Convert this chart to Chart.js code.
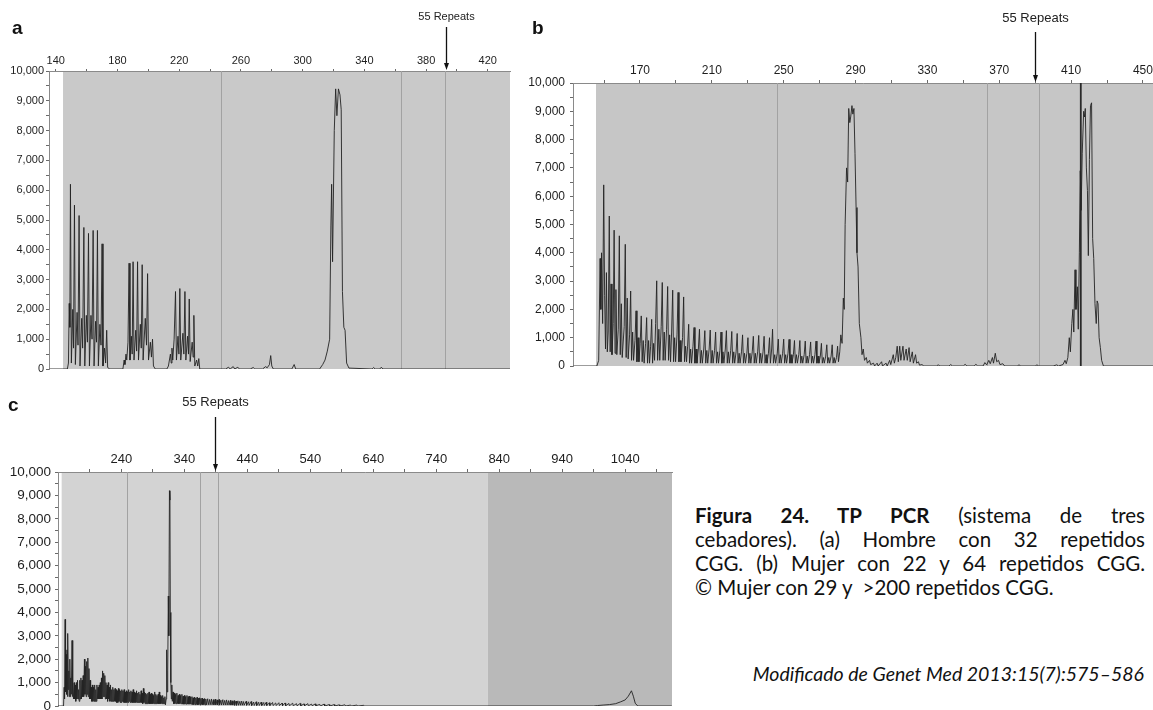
<!DOCTYPE html>
<html><head><meta charset="utf-8">
<script src="https://cdn.jsdelivr.net/npm/chart.js@4"></script>
<style>
html,body{margin:0;padding:0;background:#fff;width:1153px;height:710px;overflow:hidden;position:relative}
canvas{position:absolute;display:block}
#cap{position:absolute;left:695px;top:503px;width:450px;font-family:Lato,"Open Sans",sans-serif;font-size:20.5px;line-height:24px;color:#111}
#cap div{text-align:justify;text-align-last:justify;white-space:nowrap}
#cap div.last{text-align:left;text-align-last:left}
#src{position:absolute;right:9px;top:662px;font-family:Lato,"Open Sans",sans-serif;font-style:italic;font-size:19.5px;color:#111}
</style></head><body>
<canvas id="ca" width="520" height="380" style="left:0;top:0"></canvas>
<canvas id="cb" width="643" height="375" style="left:510px;top:0"></canvas>
<canvas id="cc" width="680" height="325" style="left:0;top:385px"></canvas>
<div id="cap">
<div><b>Figura 24. TP PCR</b> (sistema de tres</div>
<div>cebadores). (a) Hombre con 32 repetidos</div>
<div>CGG. (b) Mujer con 22 y 64 repetidos CGG.</div>
<div class="last">© Mujer con 29 y &nbsp;&gt;200 repetidos CGG.</div>
</div>
<div id="src">Modificado de Genet Med 2013:15(7):575–586</div>
<script>
// ---------- data (size in bp, signal in RFU) ----------
const yTickValues = [0,500,1000,1500,2000,2500,3000,3500,4000,4500,5000,5500,6000,6500,7000,7500,8000,8500,9000,9500,10000];
const yTickLabels = [0,1000,2000,3000,4000,5000,6000,7000,8000,9000,10000];

const xTicksA  = [140,160,180,200,220,240,260,280,300,320,340,360,380,400,420];
const xLabelsA = [140,180,220,260,300,340,380,420];
const xTicksB  = [150,170,190,210,230,250,270,290,310,330,350,370,390,410,430,450];
const xLabelsB = [170,210,250,290,330,370,410,450];
const xTicksC  = [190,240,290,340,390,440,490,540,590,640,690,740,790,840,890,940,990,1040,1090];
const xLabelsC = [240,340,440,540,640,740,840,940,1040];

const markersA = [246.8,363.7,392.4];
const markersB = [246,363,392.3];
const markerBoldB = [415.4];
const markersC = [248,364.5,393.6];
const repeats55 = ["55 Repeats"];

const traceA = [[136,0],[147.5,0],[148.2,200],[148.7,2200],[149.1,1400],[149.5,6200],[150.1,200],
[151,2000],[151.5,700],[152.1,5500],[152.7,150],[153.8,1900],[154.4,800],[155.1,5150],[155.7,100],
[156.8,1700],[157.4,700],[158.2,4750],[158.8,100],[159.8,1800],[160.5,900],[161.2,4550],[161.8,100],
[162.8,1800],[163.5,1000],[164.2,4650],[164.8,100],[165.8,1600],[166.4,900],[167,4650],[167.6,100],
[168.6,1500],[169.3,800],[170,4200],[170.6,100],[171.6,700],[172.3,200],[173,1300],[173.6,50],[175,0],
[183.5,0],[184.3,300],[184.8,150],[185.5,500],[186,300],
[186.8,900],[187.5,3550],[188.1,300],[189,1100],[189.5,500],[190.1,3600],[190.7,300],[191.8,1300],[192.4,600],
[193,3600],[193.6,300],[194.8,1500],[195.4,700],[196,3500],[196.6,300],[198,1700],[198.8,800],[199.5,3200],
[200.1,300],[201.3,900],[202,400],[202.7,1000],[203.3,100],[204.5,0],
[212,0],[213,100],[214.3,500],[214.8,200],[215.3,700],[215.8,300],
[216.7,1000],[217.6,2600],[218.2,300],[219.2,1100],[219.8,500],[220.4,2700],[221,300],[222.4,1200],[223,500],
[223.7,2600],[224.3,300],[225.4,1100],[226,500],[226.5,2350],[227.1,250],[228.4,900],[229,400],[229.5,1800],
[230.1,100],[231.3,300],[232,100],[232.7,350],[233.3,0],
[250,0],[252,60],[253,0],[255,80],[256,0],[258,60],[259,0],[266,0],[268,50],[269,0],[274,0],[276,80],[277,40],
[278.5,150],[279.3,450],[280,100],[281,0],[293,0],[294.5,150],[295.5,0],[311,0],[313,150],[314.5,300],[316,600],
[317.5,1000],[318.3,4800],[318.8,6200],[319.4,3600],[320.5,8000],[321.4,9400],[322.2,8500],[323.2,9400],
[324.2,9200],[325,8700],[325.8,2600],[326.7,1400],[327.5,1300],[328.5,200],[330,30],[345,0],[346,50],[347,0],
[350,0],[351,60],[352,0],[434.5,0]];

const traceB = [[133,0],[146,0],[147,200],[147.8,3800],[148.2,2000],[148.6,4000],[149.2,1500],[149.8,6400],[150.3,2500],
[150.8,600],[151.3,3300],[151.8,500],[152.3,1200],[152.9,5300],[153.4,500],[153.9,2900],[154.4,400],[155.1,1500],
[155.6,4800],[156.1,450],[156.6,2700],[157.1,400],[157.9,1300],[158.5,4600],[159,400],[159.6,2200],[160.1,300],
[161.2,1400],[161.8,4300],[162.3,300],[162.9,2400],[163.4,250],[164.2,1100],[164.8,2650],[165.3,200],[165.9,1200],
[166.4,200],[167.2,900],[167.8,1950],[168.3,150],[168.9,1000],[169.4,150],[170.1,800],[170.7,1770],[171.2,150],
[171.8,900],[172.3,100],[173.1,800],[173.7,1710],[174.2,100],[174.8,900],[175.3,100],[175.9,700],[176.5,1650],
[177,100],[177.6,800],[178.1,200],[178.7,1500],[179.3,3010],[179.8,200],[180.5,1300],[181,200],[181.8,1400],
[182.4,2950],[182.9,200],[183.5,1200],[184,200],[184.8,1300],[185.4,2810],[185.9,200],[186.5,1100],[187,150],
[187.6,1200],[188.2,2680],[188.7,150],[189.3,1000],[189.8,150],[190.6,1100],[191.2,2600],[191.7,150],[192.3,900],
[192.8,150],[193.7,1000],[194.3,2440],[194.8,150],[195.4,700],[195.9,150],[196.5,700],[197.1,1475],[197.6,100],
[198.2,600],[198.7,100],[199.5,700],[200.1,1360],[200.6,100],[201.2,600],[201.7,100],[202.5,600],[203.1,1300],
[203.6,100],[204.2,550],[204.7,100],[205.5,600],[206.1,1250],[206.6,100],[207.2,550],[207.7,100],[208.5,600],
[209.1,1270],[209.6,100],[210.2,550],[210.7,100],[211.5,550],[212.1,1200],[212.6,100],[213.2,500],[213.7,100],
[214.5,550],[215.1,1200],[215.6,100],[216.2,500],[216.7,100],[217.5,600],[218.1,1250],[218.6,100],[219.2,500],
[219.7,100],[220.5,550],[221.1,1220],[221.6,100],[222.2,500],[222.7,100],[223.5,500],[224.1,1150],[224.6,100],
[225.2,450],[225.7,100],[226.5,500],[227.1,1100],[227.6,100],[228.2,450],[228.7,100],[229.5,450],[230.1,1000],
[230.6,100],[231.2,450],[231.7,100],[232.5,500],[233.1,1050],[233.6,100],[234.2,450],[234.7,100],[235.5,500],
[236.1,1080],[236.6,100],[237.2,450],[237.7,100],[238.5,500],[239.1,1050],[239.6,100],[240.2,400],[240.7,100],
[241.5,450],[242.1,1000],[242.6,100],[243.3,600],[243.8,1300],[244.3,100],[245,400],[245.5,100],[246.4,450],
[247,950],[247.5,100],[248.1,400],[248.6,100],[249.4,450],[250,950],[250.5,100],[251.1,400],[251.6,100],
[252.4,450],[253,940],[253.5,100],[254.1,400],[254.6,100],[255.4,400],[256,900],[256.5,100],[257.1,400],
[257.6,100],[258.4,400],[259,900],[259.5,100],[260.1,350],[260.6,100],[261.4,400],[262,880],[262.5,100],
[263.1,350],[263.6,100],[264.4,400],[265,850],[265.5,100],[266.1,350],[266.6,100],[267.4,400],[268,880],
[268.5,100],[269.1,350],[269.6,100],[270.4,350],[271,800],[271.5,100],[272.1,300],[272.6,100],[273.4,350],
[274,750],[274.5,100],[275.1,300],[275.6,100],[276.4,350],[277,750],[277.5,100],[278.1,300],[278.6,100],
[279.4,300],[280,700],[280.5,150],[281.2,500],[281.8,1100],[282.5,800],[283.2,2400],[283.7,2000],[284.2,5000],
[285,7000],[285.6,6500],[286.2,9100],[286.8,8600],[287.3,8800],[288,9200],[288.5,8900],[289.1,9100],[289.7,7500],
[290.3,5600],[290.8,4000],[291.4,3500],[292.1,1500],[293,1000],[293.6,400],[294.3,600],[295,200],[296,300],
[296.6,100],[297.8,200],[298.4,50],[300,100],[300.6,0],[302,100],[302.6,0],[304.5,150],[305,0],[307,100],
[307.6,0],[309,200],[309.6,50],[311,400],[311.6,100],[312.4,300],[313.2,700],[313.8,150],[314.6,700],[315.2,200],
[316.4,700],[317,200],[318.2,600],[318.8,200],[319.8,650],[320.4,150],[321.6,500],[322.2,100],[323.4,400],
[324,100],[325,150],[325.6,30],[327,50],[328,0],[335,0],[336,40],[337,0],[342,0],[343,50],[344,0],[350,0],
[351,60],[352,0],[356,0],[357,60],[358,0],[361,0],[362,120],[363,40],[364.2,200],[365,80],[366.2,300],[366.8,100],
[367.8,450],[368.6,150],[369.6,200],[370.4,50],[372,80],[373,0],[380,0],[381,40],[382,0],[390,0],[391,40],[392,0],
[400,0],[402,40],[403,0],[405.5,50],[406.6,200],[407.3,80],[408.2,300],[409,1000],[409.6,500],[410.4,1500],
[411,2000],[411.5,1200],[412.2,3400],[412.7,2000],[413.5,2800],[414,1300],[414.6,4000],[415.1,6900],[415.6,5500],
[416.2,7500],[417,9000],[417.5,8800],[417.9,9100],[418.5,7000],[419.1,6200],[419.6,3900],[420.2,7300],[420.8,9200],
[421.4,9300],[422,4500],[422.6,3800],[423.3,2200],[424,1500],[424.5,2300],[425,2200],[425.6,1000],[426.3,650],
[427,200],[428,0],[455.6,0]];

const traceC = [[139,0],[148,0],[149,800],[149.6,300],[150.5,3700],[151.2,600],[152,2200],[152.7,500],[153.5,2400],
[154.2,400],[155,3100],[155.6,700],[156.4,1500],[157.1,400],[158,2000],[158.7,400],[159.5,1200],[160.3,500],
[161.5,2800],[162.2,400],[163,900],[163.8,300],[164.8,1000],[165.6,300],[166.6,900],[167.4,200],[168.4,1000],
[169.2,300],[170.2,1100],[171,300],[172,700],[172.8,200],[173.8,1100],[174.6,300],[175.6,1200],[176.4,300],
[177.4,1100],[178.2,400],[179.2,1300],[180,400],[181.2,2000],[182,500],[183,1700],[183.8,400],[184.8,1900],
[185.6,500],[186.6,2050],[187.4,400],[188.4,1600],[189.2,300],[190.2,1100],[191,300],[192,800],[192.8,200],
[193.8,900],[194.6,200],[195.6,800],[196.4,200],[197.4,900],[198.2,200],[199.2,700],[200,200],[201,900],
[201.8,300],[202.8,800],[203.6,300],[204.6,900],[205.4,300],[206.4,1000],[207.2,300],[208.2,1200],[209,300],
[210,1500],[210.8,400],[211.8,1400],[212.6,400],[213.6,1300],[214.4,300],[215.4,1000],[216.2,300],[217.2,900],
[218,200],[219,1000],[219.8,300],[220.8,800],[221.6,200],[222.6,900],[223.4,200],[224.4,700],[225.2,200],
[226.2,800],[227,200],[228,700],[228.8,200],[229.8,750],[230.6,200],[231.6,700],[232.4,150],[233.4,650],
[234.2,150],[235.2,750],[236,200],[237,700],[237.8,150],[238.8,650],[239.6,150],[240.6,700],[241.4,200],
[242.4,650],[243.2,150],[244.2,700],[245,150],[246,600],[246.8,150],[247.8,650],[248.6,150],[249.6,600],
[250.4,150],[251.4,700],[252.2,200],[253.2,600],[254,150],[255,650],[255.8,150],[256.8,600],[257.6,150],
[258.6,700],[259.4,150],[260.4,600],[261.2,150],[262.2,550],[263,150],[264,650],[264.8,150],[265.8,550],
[266.6,150],[267.6,600],[268.4,150],[269.4,500],[270.2,150],[271.2,650],[272,150],[273,550],[273.8,100],
[274.8,750],[275.6,150],[276.6,600],[277.4,100],[278.4,550],[279.2,100],[280.2,500],[281,100],[282,550],
[282.8,100],[283.8,600],[284.6,100],[285.6,500],[286.4,100],[287.4,550],[288.2,100],[289.2,500],[290,100],
[291,450],[291.8,100],[292.8,600],[293.6,100],[294.6,500],[295.4,100],[296.4,450],[297.2,100],[298.2,500],
[299,100],[300,600],[300.8,100],[301.8,450],[302.6,100],[303.6,400],[304.4,100],[305.4,450],[306.2,100],
[307.2,350],[308,100],[309,400],[309.8,50],[311,300],[311.8,2400],[312.5,600],[313.5,1500],[314.4,4700],
[315.2,3000],[316.2,9200],[317,8800],[317.6,4000],[318.4,1000],[319.2,300],[320,900],[320.8,200],[322,600],
[322.8,100],[324,550],[324.8,100],[326,500],[326.8,100],[328,550],[328.8,100],[330,450],[330.8,100],[332,500],
[332.8,100],[334,450],[334.8,100],[336,500],[336.8,80],[338,420],[338.8,80],[340,450],[340.8,80],[342,400],
[342.8,80],[344,450],[344.8,80],[346,400],[346.8,80],[348,420],[348.8,80],[350,380],[350.8,80],[352,400],
[352.8,60],[354,350],[354.8,60],[356,380],[356.8,60],[358,350],[358.8,60],[360,370],[360.8,60],[362,330],
[362.8,60],[364,350],[364.8,60],[366,320],[366.8,60],[368,340],[368.8,60],[370,300],[370.8,60],[372,320],
[372.8,50],[374,300],[374.8,50],[377,310],[377.8,50],[380,280],[380.8,50],[383,300],[383.8,50],[386,270],
[386.8,50],[389,290],[389.8,50],[392,260],[392.8,50],[395,280],[395.8,40],[398,250],[398.8,40],[401,270],
[401.8,40],[404,240],[404.8,40],[407,260],[407.8,40],[410,230],[410.8,40],[413,240],[413.8,40],[416,220],
[416.8,40],[419,230],[419.8,30],[422,210],[422.8,30],[425,220],[425.8,30],[428,200],[428.8,30],[431,210],
[431.8,30],[434,190],[434.8,30],[438,200],[438.8,30],[442,180],[442.8,30],[446,190],[446.8,20],[450,170],
[450.8,20],[454,180],[454.8,20],[458,160],[458.8,20],[462,170],[462.8,20],[466,150],[466.8,20],[470,160],
[470.8,20],[475,140],[475.8,20],[480,150],[480.8,20],[485,130],[485.8,20],[490,140],[490.8,20],[495,120],
[495.8,10],[500,130],[500.8,10],[506,110],[506.8,10],[512,120],[512.8,10],[518,100],[518.8,10],[524,110],
[524.8,10],[530,90],[530.8,10],[536,100],[536.8,10],[542,80],[542.8,10],[548,90],[548.8,10],[555,70],
[555.8,0],[562,80],[562.8,0],[570,60],[570.8,0],[578,60],[578.8,0],[586,50],[586.8,0],[595,50],[596,0],
[604,40],[605,0],[614,40],[615,0],[625,30],[626,0],[990,0],[996,20],[1005,40],[1015,60],[1025,100],[1033,180],
[1040,260],[1045,420],[1050,650],[1053,420],[1056,120],[1060,0],[1114,0]];

// ---------- drawing ----------
const FONT = "'Liberation Sans', Arial, Helvetica, sans-serif";
function fmt(v){ return Number(v).toLocaleString('en-US'); }

function decor(p){
  return {
    id:'decor',
    beforeDraw(chart){
      const {ctx, chartArea:a, scales:{x}} = chart;
      ctx.save();
      p.shades.forEach(([f,t,c])=>{
        const x1 = Math.max(a.left, x.getPixelForValue(f));
        const x2 = Math.min(a.right, x.getPixelForValue(t));
        ctx.fillStyle = c; ctx.fillRect(x1, a.top, x2-x1, a.bottom-a.top);
      });
      ctx.restore();
    },
    beforeDatasetsDraw(chart){
      const {ctx, chartArea:a, scales:{x}} = chart;
      ctx.save();
      p.markers.forEach(v=>{
        const px = Math.round(x.getPixelForValue(v))+0.5;
        ctx.strokeStyle = '#a2a2a2'; ctx.lineWidth = 1;
        ctx.beginPath(); ctx.moveTo(px, a.top); ctx.lineTo(px, a.bottom); ctx.stroke();
      });
      (p.bold||[]).forEach(v=>{
        const px = x.getPixelForValue(v);
        ctx.strokeStyle = '#2a2a2a'; ctx.lineWidth = 1.8;
        ctx.beginPath(); ctx.moveTo(px, a.top); ctx.lineTo(px, a.bottom); ctx.stroke();
      });
      ctx.restore();
    },
    afterDraw(chart){
      const {ctx, chartArea:a, scales:{x}} = chart;
      ctx.save();
      const ax = Math.round(x.getPixelForValue(p.arrow))+0.5;
      ctx.strokeStyle = '#111'; ctx.fillStyle = '#111'; ctx.lineWidth = 1.3;
      ctx.beginPath(); ctx.moveTo(ax, p.arrowTop); ctx.lineTo(ax, a.top-5); ctx.stroke();
      ctx.beginPath(); ctx.moveTo(ax-2.5, a.top-8); ctx.lineTo(ax+2.5, a.top-8); ctx.lineTo(ax, a.top-1); ctx.closePath(); ctx.fill();
      ctx.font = p.textFont; ctx.textAlign='center'; ctx.textBaseline='middle'; ctx.fillStyle='#222';
      ctx.fillText(repeats55[0], ax, p.textY);
      ctx.font = "bold 19px " + FONT; ctx.textAlign='left'; ctx.fillStyle='#111';
      ctx.fillText(p.letter, p.letterX, p.letterY);
      ctx.restore();
    }
  };
}

function build(id, trace, o){
  const fsz = o.fontSize;
  new Chart(document.getElementById(id), {
    type:'line',
    data:{datasets:[{data: trace.map(([x,y])=>({x,y})), borderColor:'rgba(35,35,35,0.9)', borderWidth:1,
      pointRadius:0, tension:0, fill:false}]},
    options:{
      responsive:false, animation:false, devicePixelRatio:1,
      layout:{padding:o.padding},
      plugins:{legend:{display:false}, tooltip:{enabled:false}},
      scales:{
        x:{type:'linear', position:'top', min:o.xmin, max:o.xmax,
          afterBuildTicks:s=>{ s.ticks = o.xTicks.map(v=>({value:v})); },
          afterFit:s=>{ s.height = o.xH; s.paddingLeft=0; s.paddingRight=0; },
          ticks:{autoSkip:false, maxRotation:0, minRotation:0, padding:o.xPad, color:'#1e1e1e',
            font:{family:FONT, size:fsz},
            callback:v=> o.xLabels.includes(v) ? String(v) : ''},
          grid:{drawOnChartArea:false, tickLength:o.xTL, color:'#6a6a6a'},
          border:{color:'#8a8a8a', width:1}},
        y:{type:'linear', min:0, max:10000,
          afterBuildTicks:s=>{ s.ticks = yTickValues.map(v=>({value:v})); },
          afterFit:s=>{ s.width = o.yW; s.paddingTop=0; s.paddingBottom=0; },
          ticks:{autoSkip:false, padding:o.yPad, color:'#1e1e1e', font:{family:FONT, size:o.yFont||fsz},
            callback:v=> yTickLabels.includes(v) ? fmt(v) : ''},
          grid:{drawOnChartArea:false, tickLength:3, color:'#6a6a6a'},
          border:{color:'#8a8a8a', width:1}}
      }
    },
    plugins:[decor(o.decor)]
  });
}

build('ca', traceA, {xmin:135.6, xmax:434.4, xTicks:xTicksA, xLabels:xLabelsA, fontSize:11,
  padding:{left:0, top:0, right:10, bottom:11}, xH:71, yW:49, xPad:1, xTL:2, yPad:2,
  decor:{shades:[[144.7,434.4,'#c9c9c9']], markers:markersA, arrow:392.6, arrowTop:27,
    textFont:"11px "+FONT, textY:17, letter:'a', letterX:12, letterY:29}});

build('cb', traceB, {xmin:132.7, xmax:455.6, xTicks:xTicksB, xLabels:xLabelsB, fontSize:12,
  padding:{left:0, top:0, right:0, bottom:9}, xH:83, yW:63, xPad:2, xTL:3, yPad:5,
  decor:{shades:[[145.5,455.6,'#c6c6c6']], markers:markersB, bold:markerBoldB, arrow:390, arrowTop:32,
    textFont:"13px "+FONT, textY:18, letter:'b', letterX:22, letterY:29}});

build('cc', traceC, {xmin:139.2, xmax:1114.4, xTicks:xTicksC, xLabels:xLabelsC, fontSize:13, yFont:13.5,
  padding:{left:0, top:0, right:8, bottom:4}, xH:87, yW:58, xPad:2, xTL:3, yPad:4,
  decor:{shades:[[145,822,'#d3d3d3'],[822,1114.4,'#b9b9b9']], markers:markersC, arrow:389, arrowTop:32,
    textFont:"13px "+FONT, textY:17, letter:'c', letterX:8, letterY:21}});
</script>
</body></html>
